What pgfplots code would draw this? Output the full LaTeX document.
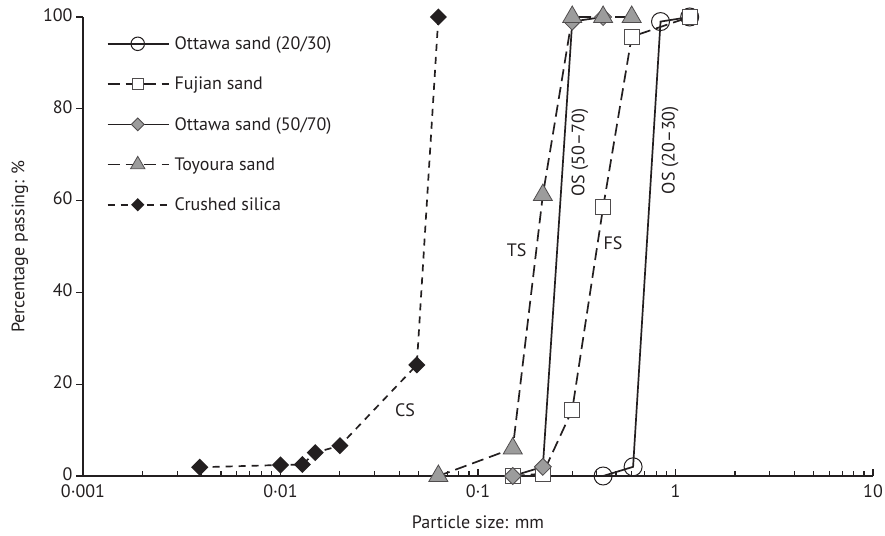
\documentclass[border=0pt]{standalone}
\usepackage{pgfplots}
\pgfplotsset{compat=1.18}
\usepackage{fontspec}
\setmainfont{PT Sans}
\definecolor{ln}{HTML}{231F20}
\definecolor{gfill}{HTML}{9C9C9C}
\newcommand{\fs}{\fontsize{18}{21}\selectfont}
\begin{document}
\begin{tikzpicture}
\useasboundingbox (-83pt,-59pt) rectangle (802pt,476pt);
\begin{axis}[
  scale only axis, width=790pt, height=459pt,
  xmode=log, xmin=0.001, xmax=10, ymin=0, ymax=100,
  axis lines=left, axis line style={-, line width=1.3pt, color=ln},
  xtick={0.001,0.01,0.1,1,10}, xticklabels={0·001,0·01,0·1,1,10},
  ytick={0,20,...,100},
  /pgf/number format/assume math mode=true,
  tick style={line width=1.1pt, color=ln},
  xtick align=inside, ytick align=outside,
  major tick length=7pt, minor tick length=5pt,
  tick label style={font=\fs, text=ln},
  xticklabel style={yshift=-5pt},
  yticklabel style={yshift=2pt},
  xlabel={Particle size: mm}, ylabel={Percentage passing: \%},
  every axis y label/.style={at={(axis description cs:-0.08,0.5)}, rotate=90, anchor=center, font=\fs, text=ln},
  every axis x label/.style={at={(axis description cs:0.5,-0.1)}, anchor=center, font=\fs, text=ln},
  clip=false,
  legend style={at={(axis description cs:0.03,0.962)}, anchor=north west, draw=none, fill=none,
    inner sep=0pt, row sep=22pt, font=\fs, text=ln},
  legend cell align=left,
  legend image code/.code={\draw[mark repeat=2, mark phase=2, #1, every mark/.append style={scale=0.75}] plot coordinates {(0pt,0pt) (30pt,0pt) (61pt,0pt)}; \path (64pt,0pt);},
]
\addplot[color=ln, line width=1.7pt, mark=o, mark size=9pt, mark options={fill=white, solid, line width=1pt}]
 coordinates {(0.43,0) (0.61,2) (0.84,99) (1.18,100)};
\addlegendentry{Ottawa sand (20/30)}
\addplot[color=ln, line width=1.7pt, dash pattern=on 12pt off 6pt, mark=square*, mark size=7.5pt, mark options={fill=white, draw=ln!80, solid, line width=1pt}]
 coordinates {(0.15,0) (0.213,0.5) (0.30,14.4) (0.43,58.5) (0.60,95.7) (1.18,100)};
\addlegendentry{Fujian sand}
\addplot[color=ln, line width=1.7pt, mark=square*, mark size=6pt, mark options={fill=gfill, draw=ln!80, solid, rotate=45, line width=0.8pt}]
 coordinates {(0.15,0) (0.213,2) (0.30,99) (0.43,100)};
\addlegendentry{Ottawa sand (50/70)}
\addplot[color=ln, line width=1.7pt, dash pattern=on 12pt off 6pt, mark=triangle*, mark size=11pt, mark options={fill=gfill, draw=ln!80, solid, line width=0.8pt}]
 coordinates {(0.063,0) (0.15,6) (0.213,61.2) (0.30,100) (0.43,100) (0.60,100)};
\addlegendentry{Toyoura sand}
\addplot[color=ln, line width=1.7pt, dash pattern=on 7pt off 6pt, mark=square*, mark size=5.2pt, mark options={fill=ln, solid, rotate=45}]
 coordinates {(0.0039,1.9) (0.01,2.4) (0.0129,2.5) (0.015,5.1) (0.02,6.6) (0.049,24.2) (0.063,100)};
\addlegendentry{Crushed silica}
\node[font=\fs, text=ln, rotate=90] at (axis cs:0.328,70.4) {OS (50–70)};
\node[font=\fs, text=ln, rotate=90] at (axis cs:0.94,71) {OS (20–30)};
\node[font=\fs, text=ln] at (axis cs:0.157,49.2) {TS};
\node[font=\fs, text=ln] at (axis cs:0.483,50.8) {FS};
\node[font=\fs, text=ln] at (axis cs:0.0427,14.4) {CS};
\end{axis}
\end{tikzpicture}
\end{document}
